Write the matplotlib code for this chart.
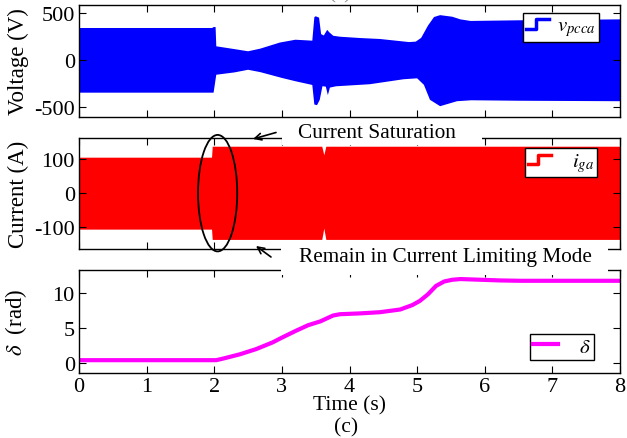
import matplotlib
matplotlib.use('Agg')
import matplotlib.pyplot as plt
from matplotlib.lines import Line2D
from matplotlib.patches import Ellipse, Rectangle
from matplotlib.legend_handler import HandlerBase

plt.rcParams['font.family'] = ['Liberation Serif', 'DejaVu Serif']
plt.rcParams['mathtext.fontset'] = 'stix'
plt.rcParams['axes.unicode_minus'] = False
plt.rcParams['font.size'] = 15

# envelope of the PCC voltage (upper / lower)
t_vu = [0, 1.97, 1.99, 2.02, 2.03, 2.3, 2.5, 2.68, 2.97, 3.2, 3.45, 3.48, 3.5, 3.55, 3.58,
        3.62, 3.67, 3.7, 3.76, 3.86, 4.16, 4.45, 4.75, 4.88, 4.98, 5.06, 5.16, 5.25, 5.34,
        5.52, 5.64, 5.79, 6.5, 8.0]
v_up = [345, 345, 355, 355, 150, 120, 97, 125, 190, 220, 210, 460, 470, 455, 280,
        265, 325, 300, 262, 252, 238, 228, 205, 195, 200, 240, 370, 462, 482,
        465, 437, 420, 427, 437]
t_vl = [0, 1.99, 2.03, 2.3, 2.5, 2.68, 3.0, 3.2, 3.45, 3.48, 3.52, 3.56, 3.6, 3.65, 3.68,
        3.71, 3.8, 4.3, 4.8, 5.0, 5.1, 5.19, 5.34, 5.59, 5.8, 6.5, 8.0]
v_lo = [-344, -344, -153, -128, -100, -125, -187, -222, -262, -470, -477, -420, -275, -280, -370,
        -290, -276, -254, -201, -191, -260, -420, -488, -435, -425, -430, -435]

# envelope of the grid current
t_i = [0, 1.96, 1.97, 3.59, 3.62, 3.65, 8.0]
i_up = [105, 105, 137, 137, 112, 137, 137]
i_lo = [-105, -105, -135, -135, -102, -135, -135]

# power angle
t_d = [0, 2.03, 2.14, 2.38, 2.62, 2.86, 3.0, 3.21, 3.39, 3.57, 3.68, 3.76, 3.86, 4.16, 4.45,
       4.75, 4.93, 5.04, 5.16, 5.28, 5.4, 5.52, 5.64, 5.94, 6.23, 6.53, 8.0]
d = [0.35, 0.35, 0.6, 1.2, 1.95, 2.9, 3.6, 4.6, 5.4, 5.95, 6.45, 6.8, 6.98, 7.1, 7.27,
     7.66, 8.3, 8.9, 9.85, 11.07, 11.7, 11.95, 12.05, 11.95, 11.85, 11.8, 11.8]


class StepHandler(HandlerBase):
    def create_artists(self, legend, orig_handle, xdescent, ydescent, width, height, fontsize, trans):
        xs = [-xdescent, -xdescent + 0.45 * width, -xdescent + 0.45 * width, -xdescent + width]
        ys = [-ydescent + 0.15 * height, -ydescent + 0.15 * height, -ydescent + 0.8 * height, -ydescent + 0.8 * height]
        ln = Line2D(xs, ys, color=orig_handle.get_color(), lw=orig_handle.get_linewidth())
        ln.set_transform(trans)
        return [ln]


W, H = 627, 439
fig = plt.figure(figsize=(6.27, 4.39), dpi=100)
ax1 = fig.add_axes([79 / W, 1 - 117.7 / H, 541 / W, 111.7 / H])
ax2 = fig.add_axes([79 / W, 1 - 250 / H, 541 / W, 111 / H])
ax3 = fig.add_axes([79 / W, 1 - 374 / H, 541 / W, 103.3 / H])

ax1.fill(t_vu + t_vl[::-1], v_up + v_lo[::-1], color='#0000ff', lw=0)
ax1.set_ylim(-600, 590)
ax1.set_yticks([-500, 0, 500])
ax1.set_ylabel('Voltage (V)', fontsize=16.5)
h1 = Line2D([], [], color='#0000ff', lw=2.5)
ax1.legend([h1], [r'$v_{pcca}$'], handler_map={Line2D: StepHandler()}, loc='upper right',
           bbox_to_anchor=(0.961, 0.928), borderaxespad=0, fancybox=False, edgecolor='black',
           framealpha=1, handlelength=1.1, handletextpad=0.4, borderpad=0.15)

ax2.fill_between(t_i, i_up, i_lo, color='#ff0000', lw=0)
ax2.set_ylim(-163, 161)
ax2.set_yticks([-100, 0, 100])
ax2.set_ylabel('Current (A)', fontsize=16.5)
h2 = Line2D([], [], color='#ff0000', lw=2.5)
ax2.legend([h2], [r'$i_{ga}$'], handler_map={Line2D: StepHandler()}, loc='upper right',
           bbox_to_anchor=(0.957, 0.91), borderaxespad=0, fancybox=False, edgecolor='black',
           framealpha=1, handlelength=1.1, handletextpad=1.0, borderpad=0.15)
ax2.add_patch(Ellipse((2.05, 0), 0.58, 340, fill=False, ec='black', lw=1.3, clip_on=False, zorder=6))

ax3.plot(t_d, d, color='#ff00ff', lw=3, label=r'$\delta$')
ax3.set_ylim(-1.5, 13.4)
ax3.set_yticks([0, 5, 10])
ax3.set_ylabel(r'$\delta$  (rad)', fontsize=16.5)
ax3.set_xlabel('Time (s)', fontsize=15.5)
ax3.xaxis.set_label_coords(0.5, -0.215)
ax3.legend(loc='lower right', bbox_to_anchor=(0.952, 0.129), borderaxespad=0, fancybox=False,
           edgecolor='black', framealpha=1, handlelength=1.2, handletextpad=1.0, borderpad=0.15)

for ax in (ax1, ax2, ax3):
    ax.set_xlim(0, 8)
    ax.set_xticks(range(9))
    ax.tick_params(direction='in', top=True, right=True, length=5, width=0.8, labelsize=16, pad=3)
    ax.yaxis.set_label_coords(-0.093, 0.5)
    for s in ax.spines.values():
        s.set_linewidth(1.0)
ax1.tick_params(labelbottom=False)
ax2.tick_params(labelbottom=False)

# white boxes behind the annotation texts
fig.add_artist(Rectangle((282 / W, 1 - 146 / H), 200 / W, 26 / H, transform=fig.transFigure,
                         fc='white', ec='none', zorder=5))
fig.add_artist(Rectangle((281 / W, 1 - 276 / H), 327 / W, 34.5 / H, transform=fig.transFigure,
                         fc='white', ec='none', zorder=5))
fig.text(377 / W, 1 - 134 / H, 'Current Saturation', ha='center', va='center', fontsize=15.3, zorder=7)
fig.text(445 / W, 1 - 258 / H, 'Remain in Current Limiting Mode', ha='center', va='center',
         fontsize=15.3, zorder=7)
arrow = dict(arrowstyle='->', lw=1.2, color='black', shrinkA=0, shrinkB=0, mutation_scale=12)
fig.add_artist(plt.Annotation('', xy=(253 / W, 1 - 140 / H), xytext=(276 / W, 1 - 133.5 / H),
                              xycoords='figure fraction', textcoords='figure fraction',
                              arrowprops=arrow, zorder=7))
fig.add_artist(plt.Annotation('', xy=(256 / W, 1 - 247 / H), xytext=(271 / W, 1 - 258 / H),
                              xycoords='figure fraction', textcoords='figure fraction',
                              arrowprops=arrow, zorder=7))

fig.text(340 / W, 1 - 3 / H, '(a)', ha='center', va='bottom', fontsize=15, color='#888888')
fig.text(346 / W, 1 - 428 / H, '(c)', ha='center', va='center', fontsize=15.5)

fig.savefig('out.png', dpi=100)
